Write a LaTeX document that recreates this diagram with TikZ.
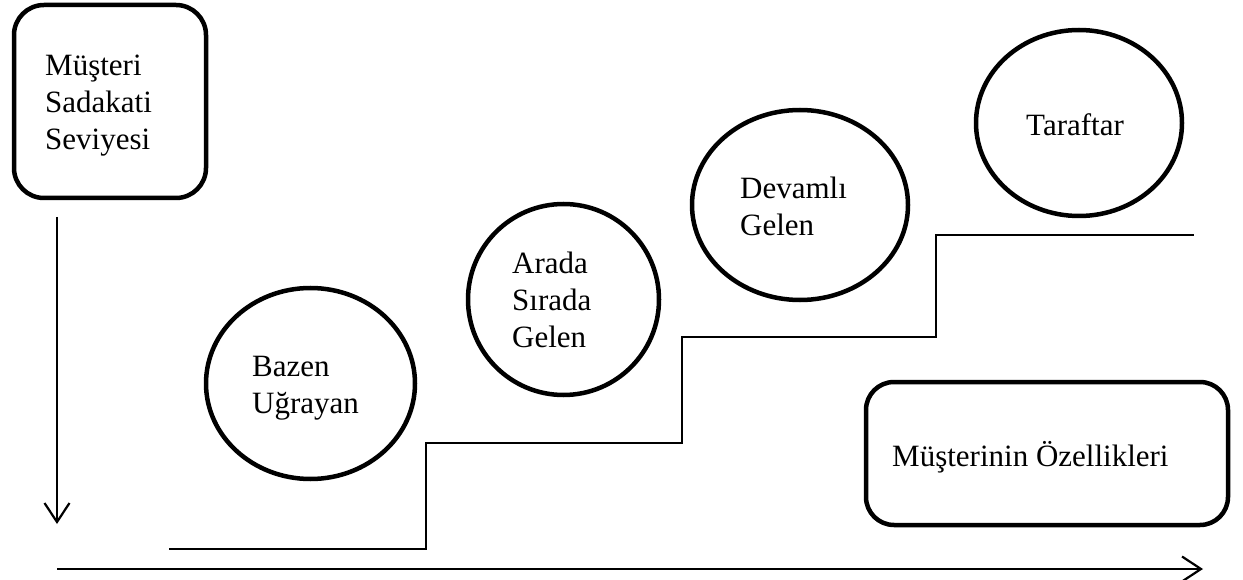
\documentclass[tikz,border=0pt]{standalone}
\usepackage{fontspec}
\setmainfont{Liberation Serif}
\usetikzlibrary{shapes.geometric,arrows.meta}
\begin{document}
\begin{tikzpicture}[x=1pt,y=-1pt,
  panel/.style={draw,line width=4.5pt,rounded corners=30pt,inner sep=0pt},
  ring/.style={draw,ellipse,line width=4.5pt,inner sep=0pt},
  txt/.style={inner sep=0pt,align=left,font=\fontsize{31}{37}\selectfont},
  stair/.style={line width=1.8pt,line join=miter},
  axis/.style={line width=2.2pt,-{Straight Barb[length=19pt,width=25pt]}}]
\useasboundingbox (0,0) rectangle (1243,580);

% loyalty-level box and its downward axis
\node[panel,minimum width=192pt,minimum height=193pt] (level) at (110,101.5) {};
\node[txt,anchor=north west] (levelText) at (45,55) {Müşteri\\Sadakati\\Seviyesi};
\coordinate (vTop) at (57,217);
\coordinate (vEnd) at (57,524);
\draw[axis] (vTop) -- (vEnd);

% customer-traits box and horizontal axis
\node[panel,minimum width=362pt,minimum height=143pt,rounded corners=28pt] (traits) at (1047,453.5) {};
\node[txt,anchor=base west] (traitsText) at (892,466) {Müşterinin Özellikleri};
\coordinate (hStart) at (57,569);
\coordinate (hEnd) at (1203,569);
\draw[axis] (hStart) -- (hEnd);

% staircase
\coordinate (s0) at (169,549);
\coordinate (s1) at (426,549);
\coordinate (s2) at (426,443);
\coordinate (s3) at (682,443);
\coordinate (s4) at (682,337);
\coordinate (s5) at (936,337);
\coordinate (s6) at (936,235);
\coordinate (s7) at (1194,235);
\draw[stair] (s0) -- (s1) -- (s2) -- (s3) -- (s4) -- (s5) -- (s6) -- (s7);

% customer types
\node[ring,minimum width=209pt,minimum height=191pt] (occasional) at (310.5,383.5) {};
\node[txt,anchor=north west] (occasionalText) at (252,356) {Bazen\\Uğrayan};

\node[ring,minimum width=191pt,minimum height=191pt] (sometimes) at (563.5,299.5) {};
\node[txt,anchor=north west] (sometimesText) at (512,252) {Arada\\Sırada\\Gelen};

\node[ring,minimum width=216pt,minimum height=190pt] (regular) at (800,205) {};
\node[txt,anchor=north west] (regularText) at (740,177) {Devamlı\\Gelen};

\node[ring,minimum width=206pt,minimum height=186pt] (fan) at (1079,123) {};
\node[txt,anchor=base west] (fanText) at (1026,136) {Taraftar};
\end{tikzpicture}
\end{document}
